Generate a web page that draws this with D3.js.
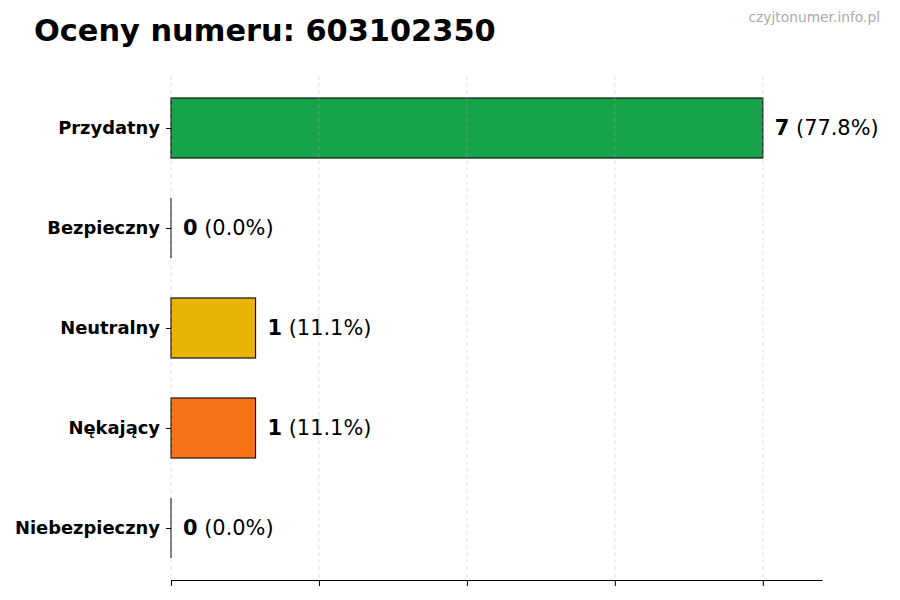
<!DOCTYPE html>
<html>
<head>
<meta charset="utf-8">
<script src="https://cdn.jsdelivr.net/npm/d3@7"></script>
<style>
  body { margin: 0; background: #fff; }
  text { font-family: "DejaVu Sans", sans-serif; }
</style>
</head>
<body>
<div id="chart"></div>
<script>
var categories = ["Przydatny", "Bezpieczny", "Neutralny", "Nękający", "Niebezpieczny"];
var counts = [7, 0, 1, 1, 0];
var percents = ["77.8%", "0.0%", "11.1%", "11.1%", "0.0%"];
var colors = ["#16a34a", "#16a34a", "#eab308", "#f97316", "#dc2626"];
var xTicks = [0, 1.75, 3.5, 5.25, 7];

var width = 900, height = 600;
var margin = { top: 76, right: 78, bottom: 20, left: 171 };
var plotW = width - margin.left - margin.right,
    plotH = height - margin.top - margin.bottom;

var svg = d3.select("#chart").append("svg")
    .attr("width", width)
    .attr("height", height);

svg.append("text")
    .attr("x", 34).attr("y", 41)
    .attr("font-size", "30.4px")
    .attr("font-weight", "bold")
    .text("Oceny numeru: 603102350");

svg.append("text")
    .attr("x", 880).attr("y", 22)
    .attr("text-anchor", "end")
    .attr("font-size", "13.8px")
    .attr("fill", "#aaaaaa")
    .text("czyjtonumer.info.pl");

var g = svg.append("g")
    .attr("transform", "translate(" + margin.left + "," + margin.top + ")");

var x = d3.scaleLinear()
    .domain([0, d3.max(counts) * 1.1])
    .range([0, plotW]);

// band positions: 0.52 band padding at ends
var y = d3.scalePoint()
    .domain(categories)
    .range([52, plotH - 52]);
var barH = 60;

// bars
g.selectAll(".bar")
    .data(categories)
    .enter().append("rect")
    .attr("class", "bar")
    .attr("x", x(0))
    .attr("y", function(d) { return y(d) - barH / 2; })
    .attr("width", function(d, i) { return x(counts[i]) - x(0); })
    .attr("height", barH)
    .attr("fill", function(d, i) { return colors[i]; })
    .attr("stroke", "#111")
    .attr("stroke-width", 1.2);

// zero-width bars still show their edge
g.selectAll(".zero")
    .data(categories.filter(function(d, i) { return counts[i] === 0; }))
    .enter().append("line")
    .attr("class", "zero")
    .attr("x1", x(0)).attr("x2", x(0))
    .attr("y1", function(d) { return y(d) - barH / 2; })
    .attr("y2", function(d) { return y(d) + barH / 2; })
    .attr("stroke", "#222")
    .attr("stroke-width", 1.2);

// grid on top, faint
g.selectAll(".grid")
    .data(xTicks)
    .enter().append("line")
    .attr("class", "grid")
    .attr("x1", function(d) { return x(d); })
    .attr("x2", function(d) { return x(d); })
    .attr("y1", 0)
    .attr("y2", plotH)
    .attr("stroke", "#b0b0b0")
    .attr("stroke-opacity", 0.5)
    .attr("stroke-dasharray", "4,3")
    .attr("stroke-width", 0.8);

// x axis, no labels
var xAxis = g.append("g")
    .attr("transform", "translate(0," + plotH + ")")
    .call(d3.axisBottom(x).tickValues(xTicks).tickFormat("").tickSize(6).tickSizeOuter(0));
xAxis.select(".domain").attr("stroke", "#000").attr("stroke-width", 1.2);
xAxis.selectAll(".tick line").attr("stroke", "#000").attr("stroke-width", 1);

// y axis: ticks + labels, no spine
var yAxis = g.append("g")
    .call(d3.axisLeft(y).tickSize(5).tickPadding(6));
yAxis.select(".domain").remove();
yAxis.selectAll(".tick line").attr("stroke", "#000");
yAxis.selectAll(".tick text")
    .attr("font-size", "17.9px")
    .attr("font-weight", "bold")
    .attr("fill", "#000")
    .style("font-family", "'DejaVu Sans', sans-serif");

// value labels
var labels = g.selectAll(".val")
    .data(categories)
    .enter().append("text")
    .attr("class", "val")
    .attr("x", function(d, i) { return x(counts[i]) + 12; })
    .attr("y", function(d) { return y(d); })
    .attr("dy", "0.35em")
    .attr("font-size", "20.9px");
labels.append("tspan")
    .attr("font-weight", "bold")
    .text(function(d, i) { return counts[i]; });
labels.append("tspan")
    .text(function(d, i) { return " (" + percents[i] + ")"; });
</script>
</body>
</html>
